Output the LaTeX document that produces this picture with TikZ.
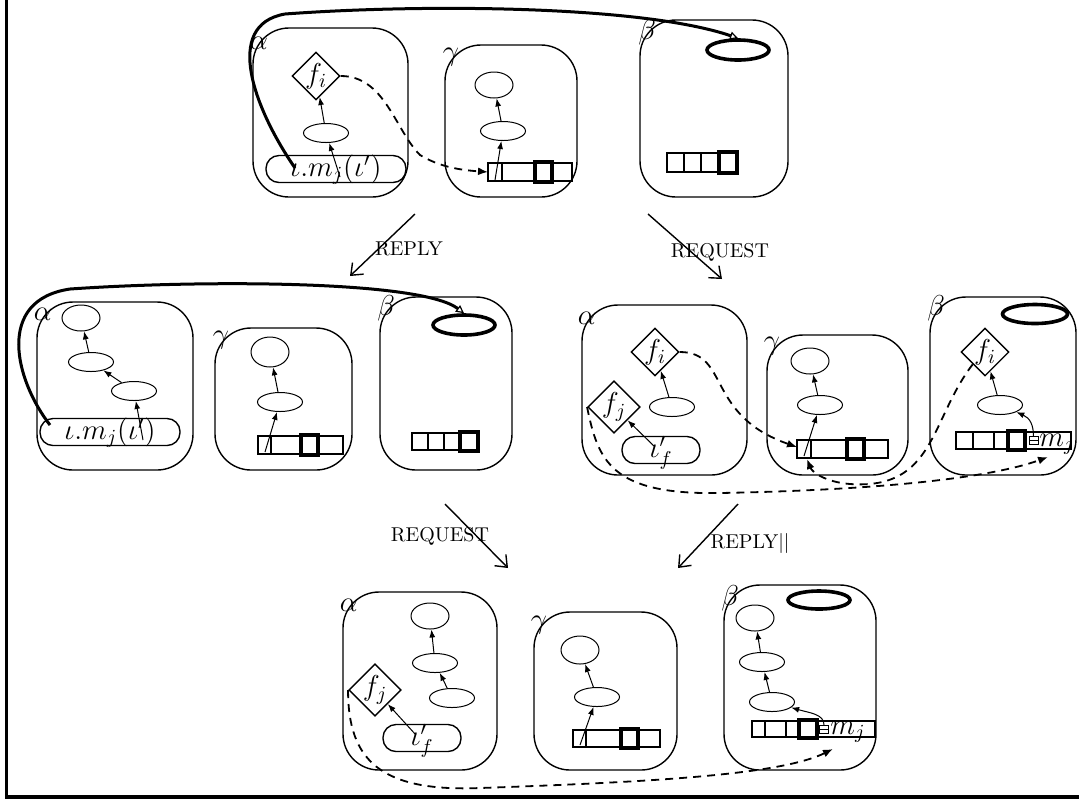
\documentclass[tikz,border=0pt]{standalone}
\usepackage{amsmath,amssymb}
\usetikzlibrary{arrows.meta,shapes.geometric}

\begin{document}
\begin{tikzpicture}[x=0.5pt, y=-0.5pt, >={Latex[length=4pt,width=3pt]},
    proc/.style={line width=0.7pt, rounded corners=18pt},
    plab/.style={font=\Large, inner sep=1pt},
    obj/.style={draw, ellipse, line width=0.5pt, inner sep=0pt,
      minimum width=22.5pt, minimum height=9.5pt},
    objc/.style={obj, minimum width=19pt, minimum height=13pt},
    root/.style={draw, ellipse, line width=1.8pt, inner sep=0pt,
      minimum width=31pt, minimum height=10pt},
    fut/.style={draw, diamond, line width=0.7pt, inner sep=0pt,
      minimum size=24pt, font=\Large},
    msg/.style={draw, rounded corners=6.5pt, line width=0.7pt, inner sep=0pt,
      minimum height=13.5pt, text height=7.5pt, text depth=0pt, font=\Large},
    mlab/.style={font=\Large, anchor=base west, inner sep=0pt},
    link/.style={->, line width=0.5pt},
    flow/.style={line width=0.9pt, dash pattern=on 4pt off 3pt,
      -{Latex[length=5pt,width=4pt]}},
    ref/.style={line width=1.5pt,
      -{Triangle[open,length=4pt,width=4pt,line width=0.6pt]}},
    trans/.style={line width=0.7pt, -{Straight Barb[length=5pt,width=8pt]}},
    qline/.style={line width=0.6pt},
    qhead/.style={line width=1.8pt},
    qmark/.style={line width=0.35pt}]
  \useasboundingbox (0,0) rectangle (1079,800);

  % --- frame ---
  \draw[line width=1.6pt] (6.5,0) -- (6.5,797) -- (1079,797);

  % --- panel 1 ---
  \draw[proc] (253,28) rectangle (408,197);
  \node[plab] (la1) at (259,43) {$\alpha$};
  \node[fut] (fi1) at (316,76) {$f_i$};
  \node[obj] (ea1) at (326,133) {};
  \node[msg, minimum width=70pt] (ma1) at (336,169) {$\iota.m_j(\iota')$};
  \coordinate (sa1) at (340,177);
  \draw[link] (sa1) -- (ea1);
  \draw[link] (ea1) -- (fi1);

  \draw[proc] (445,45) rectangle (577,197);
  \node[plab] (lg1) at (451,57) {$\gamma$};
  \node[objc] (cg1) at (494,85) {};
  \node[obj] (eg1) at (503,131) {};
  \draw[qline] (488,163) rectangle (572,181) (502,163) -- (502,181);
  \draw[qhead] (535,162) rectangle (552,182);
  \coordinate (qg1) at (488,172);
  \coordinate (sg1) at (495,180);
  \draw[link] (sg1) -- (eg1);
  \draw[link] (eg1) -- (cg1);

  \draw[proc] (640,20) rectangle (788,197);
  \node[plab] (lb1) at (647,32) {$\beta$};
  \node[root] (rb1) at (738,50) {};
  \draw[qline] (667,153) rectangle (737,172)
    (684,153) -- (684,172) (701,153) -- (701,172);
  \draw[qhead] (719,152) rectangle (737,173);

  \coordinate (ra1) at (295,168);
  \draw[ref] (ra1) .. controls (255,110) and (222,25) .. (285,14)
    .. controls (420,4) and (640,5) .. (rb1.north);
  \draw[flow] (fi1.east) .. controls (385,76) and (395,130) .. (420,155)
    .. controls (440,167) and (460,170) .. (qg1);

  % --- transitions 1 -> 2 ---
  \coordinate (t1a) at (415,214);
  \coordinate (t1b) at (350,276);
  \draw[trans] (t1a) -- (t1b);
  \node (rep1) at (409,249) {REPLY};
  \coordinate (t2a) at (648,214);
  \coordinate (t2b) at (722,279);
  \draw[trans] (t2a) -- (t2b);
  \node (req1) at (720,252) {REQUEST};

  % --- panel 2, left ---
  \draw[proc] (37,302) rectangle (193,470);
  \node[plab] (la2) at (43,314) {$\alpha$};
  \node[objc] (ca2) at (81,318) {};
  \node[obj] (ea2) at (91,362) {};
  \node[obj] (da2) at (134,391) {};
  \node[msg, minimum width=70pt] (ma2) at (110,432) {$\iota.m_j(\iota')$};
  \coordinate (sa2) at (143,440);
  \draw[link] (sa2) -- (da2);
  \draw[link] (da2) -- (ea2);
  \draw[link] (ea2) -- (ca2);

  \draw[proc] (215,328) rectangle (352,470);
  \node[plab] (lg2) at (221,340) {$\gamma$};
  \node[objc, minimum height=15pt] (cg2) at (270,352) {};
  \node[obj] (eg2) at (280,402) {};
  \draw[qline] (258,436) rectangle (343,454) (271,436) -- (271,454);
  \draw[qhead] (301,435) rectangle (318,455);
  \coordinate (sg2) at (265,452);
  \draw[link] (sg2) -- (eg2);
  \draw[link] (eg2) -- (cg2);

  \draw[proc] (380,297) rectangle (512,470);
  \node[plab] (lb2) at (386,308) {$\beta$};
  \node[root] (rb2) at (464,325) {};
  \draw[qline] (412,433) rectangle (478,450)
    (428,433) -- (428,450) (444,433) -- (444,450);
  \draw[qhead] (460,432) rectangle (478,451);

  \coordinate (ra2) at (50,425);
  \draw[ref] (ra2) .. controls (15,380) and (-5,300) .. (70,289)
    .. controls (200,280) and (420,280) .. (rb2.north);

  % --- panel 2, right ---
  \draw[proc] (582,305) rectangle (747,475);
  \node[plab] (la3) at (587,318) {$\alpha$};
  \node[fut] (fi3) at (655,352) {$f_i$};
  \node[fut] (fj3) at (614,407) {$f_j$};
  \node[obj] (ea3) at (672,407) {};
  \node[msg, minimum width=39pt] (ma3) at (661,450) {$\iota'_f$};
  \coordinate (sa3) at (655,447);
  \draw[link] (ea3) -- (fi3);
  \draw[link] (sa3) -- (fj3);

  \draw[proc] (767,335) rectangle (908,475);
  \node[plab] (lg3) at (772,346) {$\gamma$};
  \node[objc] (cg3) at (810,361) {};
  \node[obj] (eg3) at (820,405) {};
  \draw[qline] (797,440) rectangle (888,458) (811,440) -- (811,458);
  \draw[qhead] (847,439) rectangle (864,459);
  \coordinate (qg3) at (797,447);
  \coordinate (qg3b) at (807,459);
  \coordinate (sg3) at (804,456);
  \draw[link] (sg3) -- (eg3);
  \draw[link] (eg3) -- (cg3);

  \draw[proc] (930,297) rectangle (1076,475);
  \node[plab] (lb3) at (936,308) {$\beta$};
  \node[root, minimum width=32.5pt, minimum height=9.5pt] (rb3) at (1035,314) {};
  \node[fut] (fi4) at (985,352) {$f_i$};
  \node[obj] (eb3) at (1000,405) {};
  \draw[qline] (956,432) rectangle (1071,449)
    (973,432) -- (973,449) (994,432) -- (994,449);
  \draw[qhead] (1008,431) rectangle (1025,450);
  \draw[qmark] (1029,436.5) rectangle (1038,444.5) (1029,440.5) -- (1038,440.5);
  \coordinate (sb3) at (1033.5,436.5);
  \node[mlab] (mj3) at (1039,446) {$m_j$};
  \coordinate (mjb3) at (1048,457);
  \draw[link] (eb3) -- (fi4);
  \draw[link] (sb3) .. controls (1033.5,425) and (1030,418) .. (eb3);

  \draw[flow] (fi3.east) .. controls (730,352) and (705,415) .. (qg3);
  \draw[flow] (fi4.south west) .. controls (930,420) and (935,490) .. (850,484)
    .. controls (825,482) and (812,472) .. (qg3b);
  \draw[flow] (fj3.west) .. controls (598,460) and (610,495) .. (720,493)
    .. controls (880,490) and (990,478) .. (mjb3);

  % --- transitions 2 -> 3 ---
  \coordinate (t3a) at (445,504);
  \coordinate (t3b) at (508,568);
  \draw[trans] (t3a) -- (t3b);
  \node (req2) at (440,536) {REQUEST};
  \coordinate (t4a) at (738,504);
  \coordinate (t4b) at (678,568);
  \draw[trans] (t4a) -- (t4b);
  \node (rep2) at (750,543) {REPLY$||$};

  % --- panel 3 ---
  \draw[proc] (343,592) rectangle (497,770);
  \node[plab] (la4) at (349,605) {$\alpha$};
  \node[objc] (ca4) at (430,616) {};
  \node[obj] (ea4) at (435,663) {};
  \node[obj] (da4) at (452,698) {};
  \node[fut] (fj4) at (375,690) {$f_j$};
  \node[msg, minimum width=39pt] (ma4) at (422,738) {$\iota'_f$};
  \coordinate (sa4) at (416,735);
  \draw[link] (da4) -- (ea4);
  \draw[link] (ea4) -- (ca4);
  \draw[link] (sa4) -- (fj4);

  \draw[proc] (534,612) rectangle (677,770);
  \node[plab] (lg4) at (539,625) {$\gamma$};
  \node[objc, minimum height=14pt] (cg4) at (580,650) {};
  \node[obj] (eg4) at (597,697) {};
  \draw[qline] (573,730) rectangle (660,747) (586,730) -- (586,747);
  \draw[qhead] (621,729) rectangle (638,748);
  \coordinate (sg4) at (580,745);
  \draw[link] (sg4) -- (eg4);
  \draw[link] (eg4) -- (cg4);

  \draw[proc] (724,585) rectangle (876,770);
  \node[plab] (lb4) at (730,598) {$\beta$};
  \node[root, minimum width=31pt, minimum height=9pt] (rb4) at (819,600) {};
  \node[objc] (cb4) at (755,618) {};
  \node[obj] (eb4) at (762,662) {};
  \node[obj] (db4) at (772,702) {};
  \draw[qline] (752,721) rectangle (875,737)
    (765,721) -- (765,737) (786,721) -- (786,737);
  \draw[qhead] (799,720) rectangle (817,738);
  \draw[qmark] (819.5,725) rectangle (828.5,733) (819.5,729) -- (828.5,729);
  \coordinate (sb4) at (824,725);
  \node[mlab] (mj4) at (830,734) {$m_j$};
  \coordinate (mjb4) at (833,749);
  \draw[link] (db4) -- (eb4);
  \draw[link] (eb4) -- (cb4);
  \draw[link] (sb4) .. controls (824,714) and (810,713) .. (db4);

  \draw[flow] (fj4.west) .. controls (348,760) and (380,792) .. (480,788)
    .. controls (650,782) and (780,775) .. (mjb4);
\end{tikzpicture}
\end{document}
